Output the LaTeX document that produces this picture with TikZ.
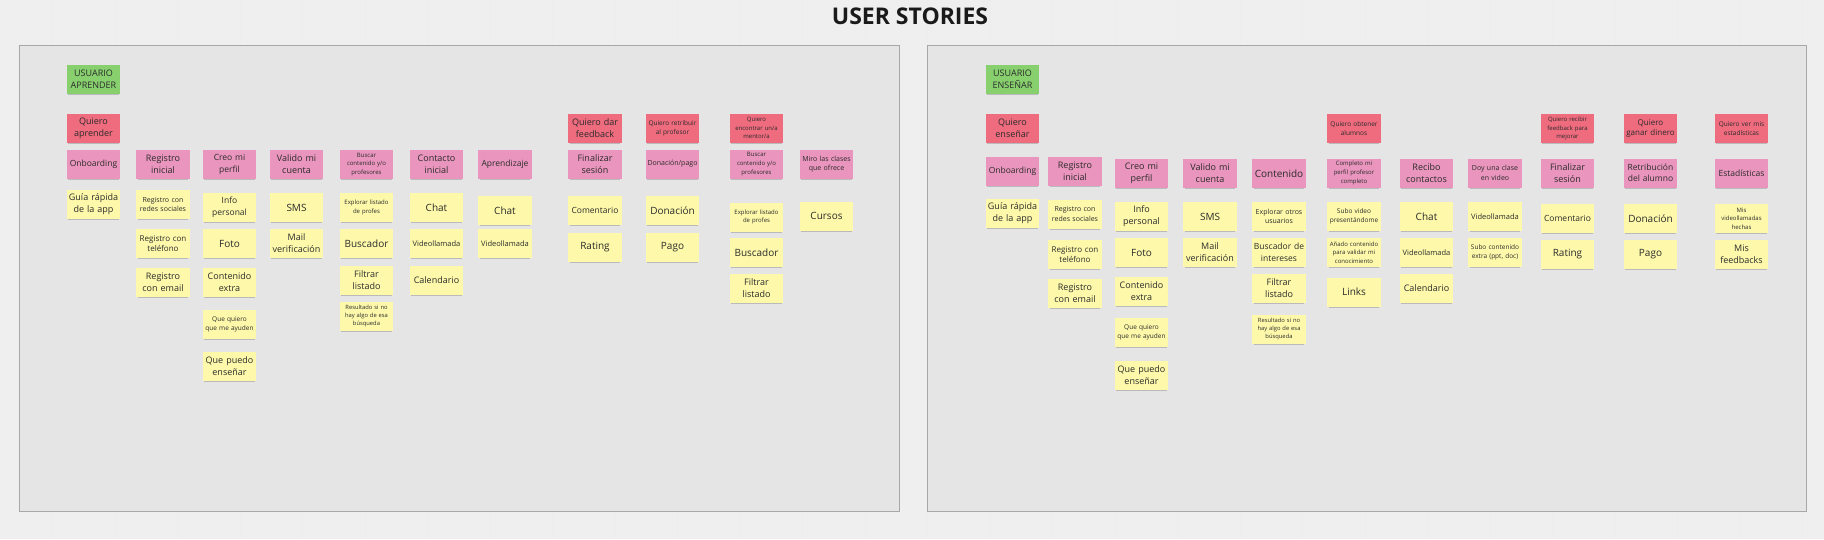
\documentclass[tikz,border=0pt]{standalone}
\usepackage{fontspec}
\setmainfont{Open Sans}
\usetikzlibrary{shadows}
\definecolor{bg}{HTML}{EFEFEF}
\definecolor{panel}{HTML}{E5E5E5}
\definecolor{panelline}{HTML}{A8A8A8}
\definecolor{stgreen}{HTML}{88D06E}
\definecolor{stred}{HTML}{EF6B7E}
\definecolor{stpink}{HTML}{E995BD}
\definecolor{styel}{HTML}{FEF9AA}
\definecolor{ink}{HTML}{2B2B2B}
\definecolor{titleink}{HTML}{1A1A1A}
\tikzset{
  sticky/.style={minimum width=53.5pt, minimum height=29pt, inner sep=0pt,
    text width=53pt, align=center, text=ink,
    drop shadow={shadow xshift=0pt, shadow yshift=-2pt, shadow scale=0.94, opacity=0.28, fill=black!70}},
  sg/.style={sticky, fill=stgreen},
  sr/.style={sticky, fill=stred},
  sp/.style={sticky, fill=stpink},
  sy/.style={sticky, fill=styel},
  fA/.style={font=\fontsize{10}{12.5}\selectfont},
  fB/.style={font=\fontsize{9}{12.2}\selectfont},
  fC/.style={font=\fontsize{8.5}{11.5}\selectfont},
  fD/.style={font=\fontsize{8}{10.8}\selectfont},
  fE/.style={font=\fontsize{7.5}{10}\selectfont},
  fF/.style={font=\fontsize{7}{9.5}\selectfont},
  fG/.style={font=\fontsize{6.5}{9}\selectfont},
  fH/.style={font=\fontsize{6}{8.6}\selectfont},
  fI/.style={font=\fontsize{5.8}{8.1}\selectfont},
  panelbox/.style={fill=panel, draw=panelline, line width=1pt}
}
\begin{document}
\begin{tikzpicture}[x=1pt,y=-1pt]
\useasboundingbox (0,0) rectangle (1824,539);
\fill[bg] (0,0) rectangle (1824,539);
\foreach \gx in {52,115,177,240,302,365,427,490,552,615,677,740,802,865,927,990,1052,1115,1177,1240,1302,1365,1427,1490,1552,1615,1677,1740,1802}
  \draw[white!92!black, line width=0.6pt, opacity=0.35] (\gx,0) -- (\gx,539);
\path[panelbox] (19,45) rectangle (899,511);
\path[panelbox] (927,45) rectangle (1806,511);
\node[font=\fontsize{23}{26}\selectfont\bfseries, text=titleink] (title) at (910,16) {USER STORIES};

% ---------------- Left panel: USUARIO APRENDER ----------------
\node[sg,fB] (la-user) at (93.5,79.5) {USUARIO\\APRENDER};
\node[sr,fB] (la-want) at (93.5,128.5) {Quiero\\aprender};
\node[sp,fC] (la-onb) at (93.5,164.5) {Onboarding};
\node[sy,fB] (la-guia) at (93.5,204.5) {Guía rápida\\de la app};

\node[sp,fB] (la-reg) at (163,164.5) {Registro\\inicial};
\node[sy,fF] (la-reg1) at (163,204.5) {Registro con\\redes sociales};
\node[sy,fD] (la-reg2) at (163,243.5) {Registro con\\teléfono};
\node[sy,fB] (la-reg3) at (163,282.5) {Registro\\con email};

\node[sp,fC] (la-perf) at (229.5,164.5) {Creo mi\\perfil};
\node[sy,fC] (la-perf1) at (229.5,207.5) {Info\\personal};
\node[sy,fA] (la-perf2) at (229.5,243.5) {Foto};
\node[sy,fB] (la-perf3) at (229.5,282.5) {Contenido\\extra};
\node[sy,fG] (la-perf4) at (229.5,324) {Que quiero\\que me ayuden};
\node[sy,fB] (la-perf5) at (229.5,366.5) {Que puedo\\enseñar};

\node[sp,fB] (la-val) at (296.5,164.5) {Valido mi\\cuenta};
\node[sy,fA] (la-val1) at (296.5,207.5) {SMS};
\node[sy,fB] (la-val2) at (296.5,243.5) {Mail\\verificación};

\node[sp,fH] (la-busc) at (366.5,164.5) {Buscar\\contenido y/o\\profesores};
\node[sy,fH] (la-busc1) at (366.5,207.5) {Explorar listado\\de profes};
\node[sy,fA] (la-busc2) at (366.5,243.5) {Buscador};
\node[sy,fB] (la-busc3) at (366.5,280) {Filtrar\\listado};
\node[sy,fI] (la-busc4) at (366.5,316) {Resultado si no\\hay algo de esa\\búsqueda};

\node[sp,fB] (la-cont) at (436.5,164.5) {Contacto\\inicial};
\node[sy,fA] (la-cont1) at (436.5,207.5) {Chat};
\node[sy,fE] (la-cont2) at (436.5,243.5) {Videollamada};
\node[sy,fB] (la-cont3) at (436.5,280) {Calendario};

\node[sp,fC] (la-apr) at (505,164) {Aprendizaje};
\node[sy,fA] (la-apr1) at (505,210.5) {Chat};
\node[sy,fE] (la-apr2) at (505,243.5) {Videollamada};

\node[sr,fB] (la-fbw) at (595,128) {Quiero dar\\feedback};
\node[sp,fB] (la-fb) at (595,164) {Finalizar\\sesión};
\node[sy,fC] (la-fb1) at (595,210.5) {Comentario};
\node[sy,fA] (la-fb2) at (595,247.5) {Rating};

\node[sr,fG] (la-retw) at (672.5,128) {Quiero retribuir\\al profesor};
\node[sp,fF] (la-ret) at (672.5,164) {Donación/pago};
\node[sy,fA] (la-ret1) at (672.5,210.5) {Donación};
\node[sy,fA] (la-ret2) at (672.5,247.5) {Pago};

\node[sr,fH] (la-menw) at (756.5,128) {Quiero\\encontrar un/a\\mentor/a};
\node[sp,fH] (la-men) at (756.5,164) {Buscar\\contenido y/o\\profesores};
\node[sy,fH] (la-men1) at (756.5,217) {Explorar listado\\de profes};
\node[sy,fA] (la-men2) at (756.5,252.5) {Buscador};
\node[sy,fB] (la-men3) at (756.5,288.5) {Filtrar\\listado};

\node[sp,fF] (la-miro) at (826.5,164) {Miro las clases\\que ofrece};
\node[sy,fA] (la-miro1) at (826.5,216) {Cursos};

% ---------------- Right panel: USUARIO ENSEÑAR ----------------
\node[sg,fB] (ra-user) at (1012.5,79.5) {USUARIO\\ENSEÑAR};
\node[sr,fB] (ra-want) at (1012.5,128) {Quiero\\enseñar};
\node[sp,fC] (ra-onb) at (1012.5,171.5) {Onboarding};
\node[sy,fB] (ra-guia) at (1012.5,213.5) {Guía rápida\\de la app};

\node[sp,fB] (ra-reg) at (1075,171.5) {Registro\\inicial};
\node[sy,fF] (ra-reg1) at (1075,214) {Registro con\\redes sociales};
\node[sy,fD] (ra-reg2) at (1075,254.5) {Registro con\\teléfono};
\node[sy,fB] (ra-reg3) at (1075,293.5) {Registro\\con email};

\node[sp,fB] (ra-perf) at (1141.5,173.5) {Creo mi\\perfil};
\node[sy,fB] (ra-perf1) at (1141.5,216.5) {Info\\personal};
\node[sy,fA] (ra-perf2) at (1141.5,252.5) {Foto};
\node[sy,fB] (ra-perf3) at (1141.5,291.5) {Contenido\\extra};
\node[sy,fG] (ra-perf4) at (1141.5,332.5) {Que quiero\\que me ayuden};
\node[sy,fB] (ra-perf5) at (1141.5,375) {Que puedo\\enseñar};

\node[sp,fB] (ra-val) at (1210,173.5) {Valido mi\\cuenta};
\node[sy,fA] (ra-val1) at (1210,216.5) {SMS};
\node[sy,fB] (ra-val2) at (1210,252.5) {Mail\\verificación};

\node[sp,fA] (ra-cont) at (1279,173.5) {Contenido};
\node[sy,fF] (ra-cont1) at (1279,216.5) {Explorar otros\\usuarios};
\node[sy,fC] (ra-cont2) at (1279,252.5) {Buscador de\\intereses};
\node[sy,fB] (ra-cont3) at (1279,288.5) {Filtrar\\listado};
\node[sy,fI] (ra-cont4) at (1279,329) {Resultado si no\\hay algo de esa\\búsqueda};

\node[sr,fG] (ra-alw) at (1354,128.5) {Quiero obtener\\alumnos};
\node[sp,fH] (ra-al) at (1354,173) {Completo mi\\perfil profesor\\completo};
\node[sy,fG] (ra-al1) at (1354,216.5) {Subo video\\presentándome};
\node[sy,fH] (ra-al2) at (1354,252.5) {Añado contenido\\para validar mi\\conocimiento};
\node[sy,fA] (ra-al3) at (1354,292) {Links};

\node[sp,fB] (ra-rec) at (1426.5,173) {Recibo\\contactos};
\node[sy,fA] (ra-rec1) at (1426.5,216.5) {Chat};
\node[sy,fE] (ra-rec2) at (1426.5,252.5) {Videollamada};
\node[sy,fB] (ra-rec3) at (1426.5,288) {Calendario};

\node[sp,fF] (ra-doy) at (1495,173) {Doy una clase\\en video};
\node[sy,fE] (ra-doy1) at (1495,216.5) {Videollamada};
\node[sy,fG] (ra-doy2) at (1495,252.5) {Subo contenido\\extra (ppt, doc)};

\node[sr,fH] (ra-fbw) at (1567.5,128.5) {Quiero recibir\\feedback para\\mejorar};
\node[sp,fB] (ra-fb) at (1567.5,173) {Finalizar\\sesión};
\node[sy,fC] (ra-fb1) at (1567.5,218.5) {Comentario};
\node[sy,fA] (ra-fb2) at (1567.5,254.5) {Rating};

\node[sr,fD] (ra-dinw) at (1650.5,128.5) {Quiero\\ganar dinero};
\node[sp,fC] (ra-din) at (1650.5,173) {Retribución\\del alumno};
\node[sy,fA] (ra-din1) at (1650.5,218.5) {Donación};
\node[sy,fA] (ra-din2) at (1650.5,254.5) {Pago};

\node[sr,fG] (ra-estw) at (1741.5,128.5) {Quiero ver mis\\estadísticas};
\node[sp,fC] (ra-est) at (1741.5,173) {Estadísticas};
\node[sy,fH] (ra-est1) at (1741.5,218.5) {Mis\\videollamadas\\hechas};
\node[sy,fB] (ra-est2) at (1741.5,254.5) {Mis\\feedbacks};
\end{tikzpicture}
\end{document}
